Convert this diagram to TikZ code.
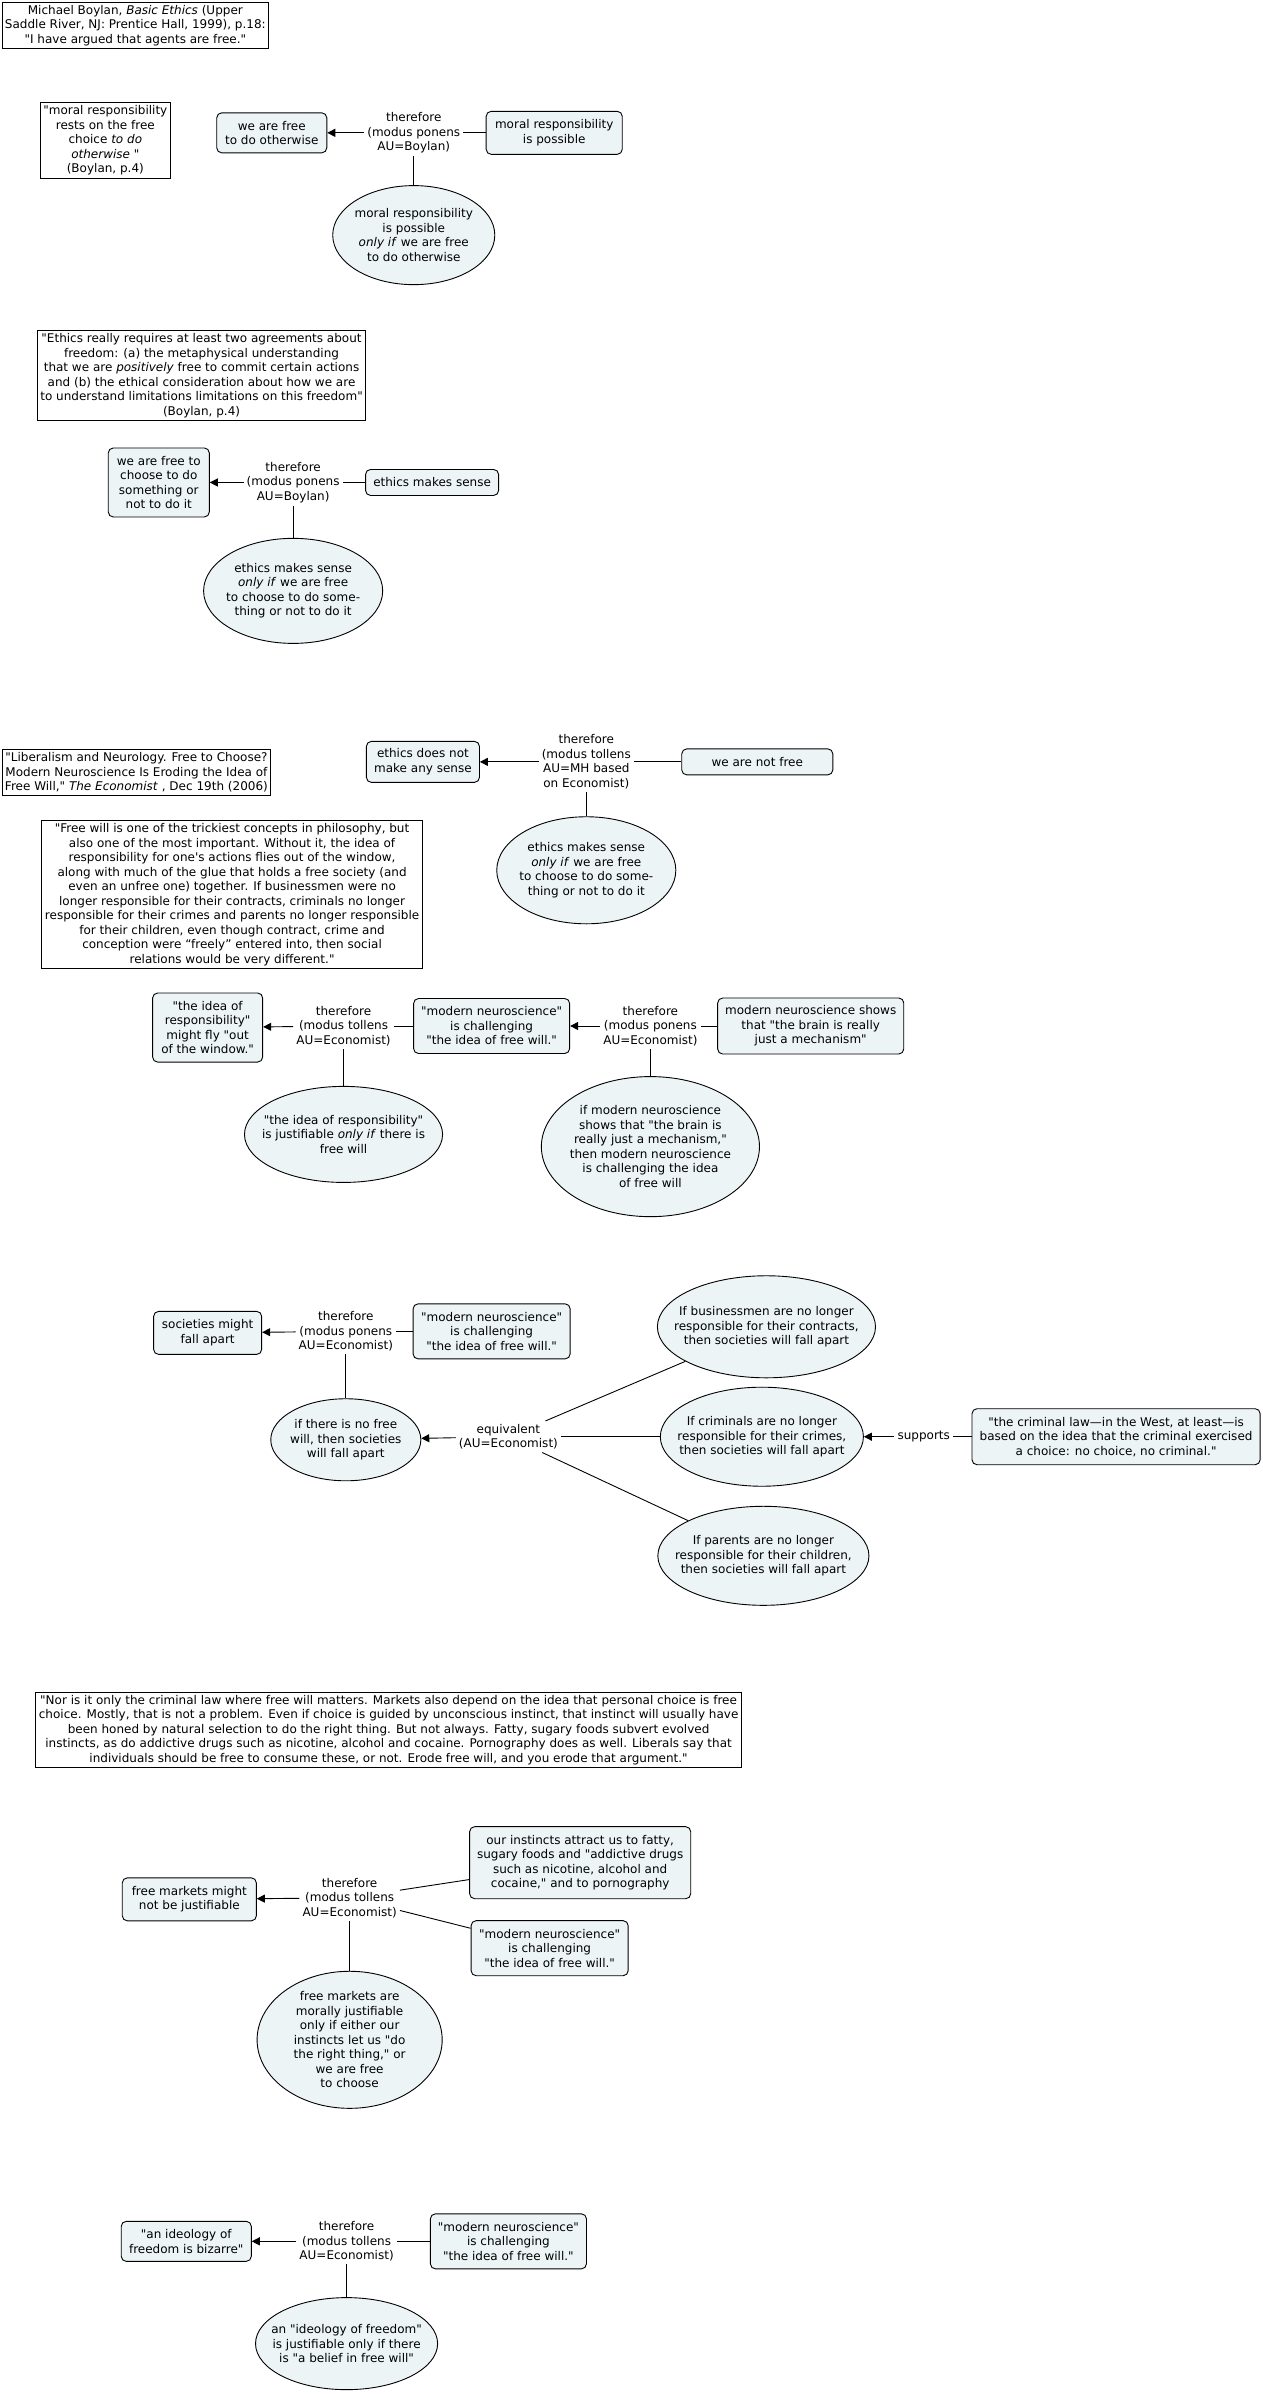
\documentclass[tikz,border=0pt]{standalone}
\usepackage{fontspec}
\setmainfont{DejaVu Sans}[Ligatures=TeXOff]
\usetikzlibrary{shapes.geometric,arrows.meta}
\definecolor{nodefill}{RGB}{237,244,246}
\begin{document}
\begin{tikzpicture}[x=1.526pt,y=-1.526pt,
  every node/.style={font=\fontsize{12}{14.5}\selectfont},
  box/.style={draw, rounded corners=5pt, fill=nodefill, align=center, inner sep=3pt, line width=0.9pt},
  quote/.style={draw, fill=white, align=center, inner sep=3pt, line width=0.9pt},
  oval/.style={draw, ellipse, fill=nodefill, inner sep=0pt, line width=0.9pt},
  otext/.style={align=center, inner sep=0pt},
  lab/.style={align=center, inner sep=3pt},
  arr/.style={-{Triangle[length=8pt,width=8pt]}, line width=0.9pt},
  ln/.style={line width=0.9pt}]
\useasboundingbox (0,0) rectangle (827,1568);

% ---------- section 1
\node[quote, anchor=north west] (T1) at (1,1) {Michael Boylan, \textit{Basic Ethics}  (Upper\\Saddle River, NJ: Prentice Hall, 1999), p.18:\\"I have argued that agents are free."};
\node[quote] (Q1) at (69,92) {"moral responsibility\\rests on the free\\choice \textit{to do}\\\textit{otherwise} "\\(Boylan, p.4)};
\node[box, minimum width=110pt, minimum height=40pt] (A1) at (178,87) {we are free\\to do otherwise};
\node[lab] (L1) at (271,87) {therefore\\(modus ponens\\AU=Boylan)};
\node[box, minimum width=136pt, minimum height=43pt] (B1) at (363,87) {moral responsibility\\is possible};
\node[oval, minimum width=162pt, minimum height=99pt] (E1) at (271,154) {};
\node[otext] (E1t) at (E1) {moral responsibility\\is possible\\\textit{only if}  we are free\\to do otherwise};
\draw[ln] (B1) -- (L1);
\draw[arr] (L1) -- (A1);
\draw[ln] (L1) -- (E1);

% ---------- section 2
\node[quote] (Q2) at (132,246) {"Ethics really requires at least two agreements about\\freedom: (a) the metaphysical understanding\\that we are \textit{positively}  free to commit certain actions\\and (b) the ethical consideration about how we are\\to understand limitations limitations on this freedom"\\(Boylan, p.4)};
\node[box, minimum width=101pt, minimum height=69pt] (A2) at (104,316) {we are free to\\choose to do\\something or\\not to do it};
\node[lab] (L2) at (192,316) {therefore\\(modus ponens\\AU=Boylan)};
\node[box, minimum width=133pt, minimum height=26pt] (B2) at (283,316) {ethics makes sense};
\node[oval, minimum width=179pt, minimum height=105pt] (E2) at (192,387) {};
\node[otext] (E2t) at (E2) {ethics makes sense\\\textit{only if}  we are free\\to choose to do some-\\thing or not to do it};
\draw[ln] (B2) -- (L2);
\draw[arr] (L2) -- (A2);
\draw[ln] (L2) -- (E2);

% ---------- section 3
\node[quote, anchor=west] (T3) at (1,506) {"Liberalism and Neurology. Free to Choose?\\Modern Neuroscience Is Eroding the Idea of\\Free Will," \textit{The Economist} , Dec 19th (2006)};
\node[box, minimum width=113pt, minimum height=41pt] (A3) at (277,499) {ethics does not\\make any sense};
\node[lab] (L3) at (384,499) {therefore\\(modus tollens\\AU=MH based\\on Economist)};
\node[box, minimum width=151pt, minimum height=26pt] (B3) at (496,499) {we are not free};
\node[oval, minimum width=179pt, minimum height=107pt] (E3) at (384,570) {};
\node[otext] (E3t) at (E3) {ethics makes sense\\\textit{only if}  we are free\\to choose to do some-\\thing or not to do it};
\draw[ln] (B3) -- (L3);
\draw[arr] (L3) -- (A3);
\draw[ln] (L3) -- (E3);
\node[quote] (Q3) at (152,586) {"Free will is one of the trickiest concepts in philosophy, but\\also one of the most important. Without it, the idea of\\responsibility for one's actions flies out of the window,\\along with much of the glue that holds a free society (and\\even an unfree one) together. If businessmen were no\\longer responsible for their contracts, criminals no longer\\responsible for their crimes and parents no longer responsible\\for their children, even though contract, crime and\\conception were “freely” entered into, then social\\relations would be very different."};

% ---------- section 4
\node[box, minimum width=110pt, minimum height=69pt] (A4) at (136,673) {"the idea of\\responsibility"\\might fly "out\\of the window."};
\node[lab] (L4) at (225,672) {therefore\\(modus tollens\\AU=Economist)};
\node[box, minimum width=156pt, minimum height=55pt] (M4) at (322,672) {"modern neuroscience"\\is challenging\\"the idea of free will."};
\node[lab] (L5) at (426,672) {therefore\\(modus ponens\\AU=Economist)};
\node[box, minimum width=186pt, minimum height=56pt] (B5) at (531,672) {modern neuroscience shows\\that "the brain is really\\just a mechanism"};
\node[oval, minimum width=198pt, minimum height=96pt] (E4) at (225,743) {};
\node[otext] (E4t) at (E4) {"the idea of responsibility"\\is justifiable \textit{only if}  there is\\free will};
\node[oval, minimum width=218pt, minimum height=140pt] (E5) at (426,751) {};
\node[otext] (E5t) at (E5) {if modern neuroscience\\shows that "the brain is\\really just a mechanism,"\\then modern neuroscience\\is challenging the idea\\of free will};
\draw[ln] (M4) -- (L4);
\draw[arr] (L4) -- (A4);
\draw[ln] (L4) -- (E4);
\draw[ln] (B5) -- (L5);
\draw[arr] (L5) -- (M4);
\draw[ln] (L5) -- (E5);

% ---------- section 5
\node[box, minimum width=108pt, minimum height=43pt] (A6) at (136,873) {societies might\\fall apart};
\node[lab] (L6) at (226.5,872) {therefore\\(modus ponens\\AU=Economist)};
\node[box, minimum width=157pt, minimum height=55pt] (M6) at (322,872) {"modern neuroscience"\\is challenging\\"the idea of free will."};
\node[oval, minimum width=150pt, minimum height=82pt] (E6) at (226.5,943) {};
\node[otext] (E6t) at (E6) {if there is no free\\will, then societies\\will fall apart};
\node[lab] (L7) at (333,941) {equivalent\\(AU=Economist)};
\node[oval, minimum width=218pt, minimum height=102pt] (E7) at (502,869) {};
\node[otext] (E7t) at (E7) {If businessmen are no longer\\responsible for their contracts,\\then societies will fall apart};
\node[oval, minimum width=203pt, minimum height=99pt] (E8) at (499,941) {};
\node[otext] (E8t) at (E8) {If criminals are no longer\\responsible for their crimes,\\then societies will fall apart};
\node[oval, minimum width=211pt, minimum height=99pt] (E9) at (500,1019) {};
\node[otext] (E9t) at (E9) {If parents are no longer\\responsible for their children,\\then societies will fall apart};
\node[lab] (L8) at (605,941) {supports};
\node[box, minimum width=288pt, minimum height=56pt] (B8) at (731,941) {"the criminal law—in the West, at least—is\\based on the idea that the criminal exercised\\a choice: no choice, no criminal."};
\draw[ln] (M6) -- (L6);
\draw[arr] (L6) -- (A6);
\draw[ln] (L6) -- (E6);
\draw[arr] (L7) -- (E6);
\draw[ln] (L7) -- (E7);
\draw[ln] (L7) -- (E8);
\draw[ln] (L7) -- (E9);
\draw[ln] (B8) -- (L8);
\draw[arr] (L8) -- (E8);

% ---------- section 6
\node[quote] (Q6) at (254.5,1133) {"Nor is it only the criminal law where free will matters. Markets also depend on the idea that personal choice is free\\choice. Mostly, that is not a problem. Even if choice is guided by unconscious instinct, that instinct will usually have\\been honed by natural selection to do the right thing. But not always. Fatty, sugary foods subvert evolved\\instincts, as do addictive drugs such as nicotine, alcohol and cocaine. Pornography does as well. Liberals say that\\individuals should be free to consume these, or not. Erode free will, and you erode that argument."};
\node[box, minimum width=134pt, minimum height=43pt] (A9) at (124,1244) {free markets might\\not be justifiable};
\node[lab] (L9) at (229,1243) {therefore\\(modus tollens\\AU=Economist)};
\node[box, minimum width=221pt, minimum height=72pt] (B9a) at (380,1220) {our instincts attract us to fatty,\\sugary foods and "addictive drugs\\such as nicotine, alcohol and\\cocaine," and to pornography};
\node[box, minimum width=157pt, minimum height=55pt] (B9b) at (360,1276) {"modern neuroscience"\\is challenging\\"the idea of free will."};
\node[oval, minimum width=185pt, minimum height=137pt] (E11) at (229,1336) {};
\node[otext] (E11t) at (E11) {free markets are\\morally justifiable\\only if either our\\instincts let us "do\\the right thing," or\\we are free\\to choose};
\draw[ln] (B9a) -- (L9);
\draw[ln] (B9b) -- (L9);
\draw[arr] (L9) -- (A9);
\draw[ln] (L9) -- (E11);

% ---------- section 7
\node[box, minimum width=130pt, minimum height=40pt] (A10) at (122,1468) {"an ideology of\\freedom is bizarre"};
\node[lab] (L10) at (227,1468) {therefore\\(modus tollens\\AU=Economist)};
\node[box, minimum width=156pt, minimum height=55pt] (M10) at (333,1468) {"modern neuroscience"\\is challenging\\"the idea of free will."};
\node[oval, minimum width=182pt, minimum height=92pt] (E10) at (227,1535) {};
\node[otext] (E10t) at (E10) {an "ideology of freedom"\\is justifiable only if there\\is "a belief in free will"};
\draw[ln] (M10) -- (L10);
\draw[arr] (L10) -- (A10);
\draw[ln] (L10) -- (E10);
\end{tikzpicture}
\end{document}
